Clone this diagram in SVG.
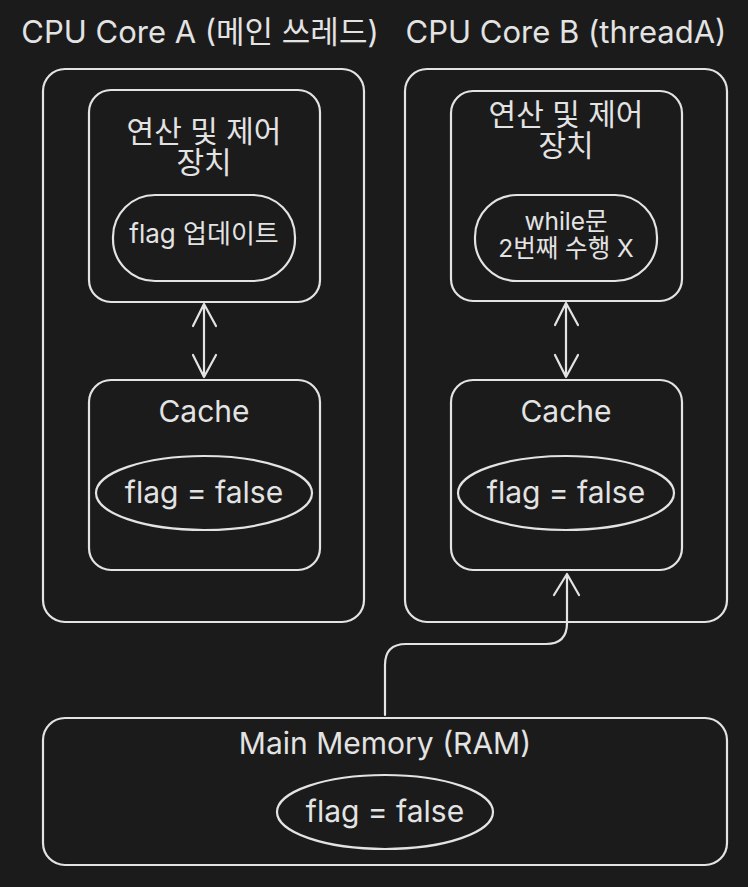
<svg xmlns="http://www.w3.org/2000/svg" width="748" height="887" viewBox="0 0 748 887">
<defs>
<style>
.bx{fill:none;stroke:#e3e3e3;stroke-width:2.2}
.ln{fill:none;stroke:#e3e3e3;stroke-width:2.2;stroke-linecap:round;stroke-linejoin:round}
.t{fill:#e3e3e3;font-family:Inter,"Noto Sans CJK KR",sans-serif;text-anchor:middle}
.t31{font-size:31px}
.t30{font-size:30px}
.t26{font-size:26px}
.t25{font-size:24.5px}
</style>
</defs>
<rect width="748" height="887" fill="#1b1b1b"/>
<g id="coreA">
<text class="t t31" x="200" y="43">CPU Core A (메인 쓰레드)</text>
<rect class="bx" x="43" y="69" width="321" height="553" rx="22"/>
</g>
<g id="aluA">
<rect class="bx" x="89" y="90" width="231" height="212" rx="22"/>
<text class="t t30" x="204" y="142">연산 및 제어</text>
<text class="t t30" x="204" y="173">장치</text>
</g>
<g id="flagUpdate">
<rect class="bx" x="113" y="195" width="182" height="86" rx="42"/>
<text class="t t26" x="204" y="243">flag 업데이트</text>
</g>
<g id="cacheA">
<rect class="bx" x="89" y="380" width="231" height="190" rx="22"/>
<text class="t t30" x="204" y="422">Cache</text>
</g>
<g id="flagA">
<ellipse class="bx" cx="204" cy="493" rx="108" ry="37"/>
<text class="t t30" x="204" y="503">flag = false</text>
</g>
<g id="coreB">
<text class="t t31" x="566" y="43">CPU Core B (threadA)</text>
<rect class="bx" x="405" y="69" width="322" height="553" rx="22"/>
</g>
<g id="aluB">
<rect class="bx" x="451" y="91" width="231" height="210" rx="22"/>
<text class="t t30" x="566" y="125">연산 및 제어</text>
<text class="t t30" x="566" y="156">장치</text>
</g>
<g id="whileLoop">
<rect class="bx" x="475" y="195" width="182" height="86" rx="42"/>
<text class="t t25" x="566" y="230">while문</text>
<text class="t t25" x="566" y="257">2번째 수행 X</text>
</g>
<g id="cacheB">
<rect class="bx" x="451" y="380" width="231" height="190" rx="22"/>
<text class="t t30" x="566" y="422">Cache</text>
</g>
<g id="flagB">
<ellipse class="bx" cx="566" cy="493" rx="108" ry="37"/>
<text class="t t30" x="566" y="503">flag = false</text>
</g>
<g id="ram">
<rect class="bx" x="43" y="718" width="684" height="147" rx="22"/>
<text class="t t30" x="385" y="754">Main Memory (RAM)</text>
</g>
<g id="flagRam">
<ellipse class="bx" cx="385" cy="812" rx="108" ry="37"/>
<text class="t t30" x="385" y="822">flag = false</text>
</g>
<g id="connectors">
<path class="ln" d="M204,304 L204,377 M193,326 L204,304 L216,326 M193,355 L204,377 L216,355"/>
<path class="ln" d="M566,303 L566,377 M555,325 L566,303 L578,325 M555,355 L566,377 L578,355"/>
<path class="ln" d="M385,715 L385,665 Q385,644 406,644 L546,644 Q567,644 567,623 L567,574 M554,595 L567,574 L579,595"/>
</g>
</svg>
